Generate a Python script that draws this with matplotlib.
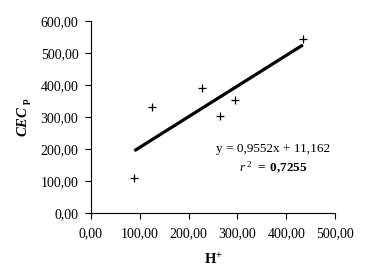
import numpy as np
import matplotlib
matplotlib.use("Agg")
import matplotlib.pyplot as plt
from matplotlib.ticker import FuncFormatter

plt.rcParams['font.family'] = ['Liberation Serif', 'DejaVu Serif']
plt.rcParams['mathtext.fontset'] = 'custom'
plt.rcParams['mathtext.rm'] = 'Liberation Serif'
plt.rcParams['mathtext.it'] = 'Liberation Serif:italic'
plt.rcParams['mathtext.bf'] = 'Liberation Serif:bold'
plt.rcParams['mathtext.bfit'] = 'Liberation Serif:italic:bold'

# Data
h_plus = [89, 125, 228, 264, 296, 434]
cec_p = [110, 331, 391, 302, 353, 542]
x_ticks = [0, 100, 200, 300, 400, 500]
y_ticks = [0, 100, 200, 300, 400, 500, 600]
eq_text = "y = 0,9552x + 11,162"
r2_value = "0,7255"

fig = plt.figure(figsize=(3.72, 2.75), dpi=100)
ax = fig.add_axes([0.2446, 0.2255, 0.656, 0.699])

ax.plot(h_plus, cec_p, linestyle='none', marker='+', color='black',
        markersize=6, markeredgewidth=0.9)

slope, intercept = np.polyfit(h_plus, cec_p, 1)
xs = np.array([min(h_plus), max(h_plus)])
ax.plot(xs, slope * xs + intercept, color='black', linewidth=2.3,
        solid_capstyle='butt')

ax.set_xlim(0, 500)
ax.set_ylim(0, 600)
ax.set_xticks(x_ticks)
ax.set_yticks(y_ticks)
fmt = FuncFormatter(lambda v, p: f"{v:.2f}".replace('.', ','))
ax.xaxis.set_major_formatter(fmt)
ax.yaxis.set_major_formatter(fmt)
ax.tick_params(direction='out', length=4, width=0.8, labelsize=10, color='black')
ax.tick_params(axis='x', pad=6)
ax.tick_params(axis='y', pad=5)
for s in ['top', 'right']:
    ax.spines[s].set_visible(False)
for s in ['left', 'bottom']:
    ax.spines[s].set_linewidth(0.8)

ax.set_xlabel(r"$\mathbf{H}^{\mathbf{+}}$", fontsize=10.5, labelpad=9)
ax.set_ylabel(r"$\mathbfit{CEC}\ _{\mathbf{p}}$", fontsize=10.5, labelpad=5)

ax.text(0.746, 0.333, eq_text, transform=ax.transAxes, fontsize=9.5,
        ha='center', va='center')
ax.text(0.746, 0.234, r"$\mathit{r}^{\ 2}$" + r" $\mathbf{=\ " + r2_value.replace(',', '{,}') + r"}$",
        transform=ax.transAxes, fontsize=9.5, ha='center', va='center')

fig.savefig("out.png", dpi=100)
